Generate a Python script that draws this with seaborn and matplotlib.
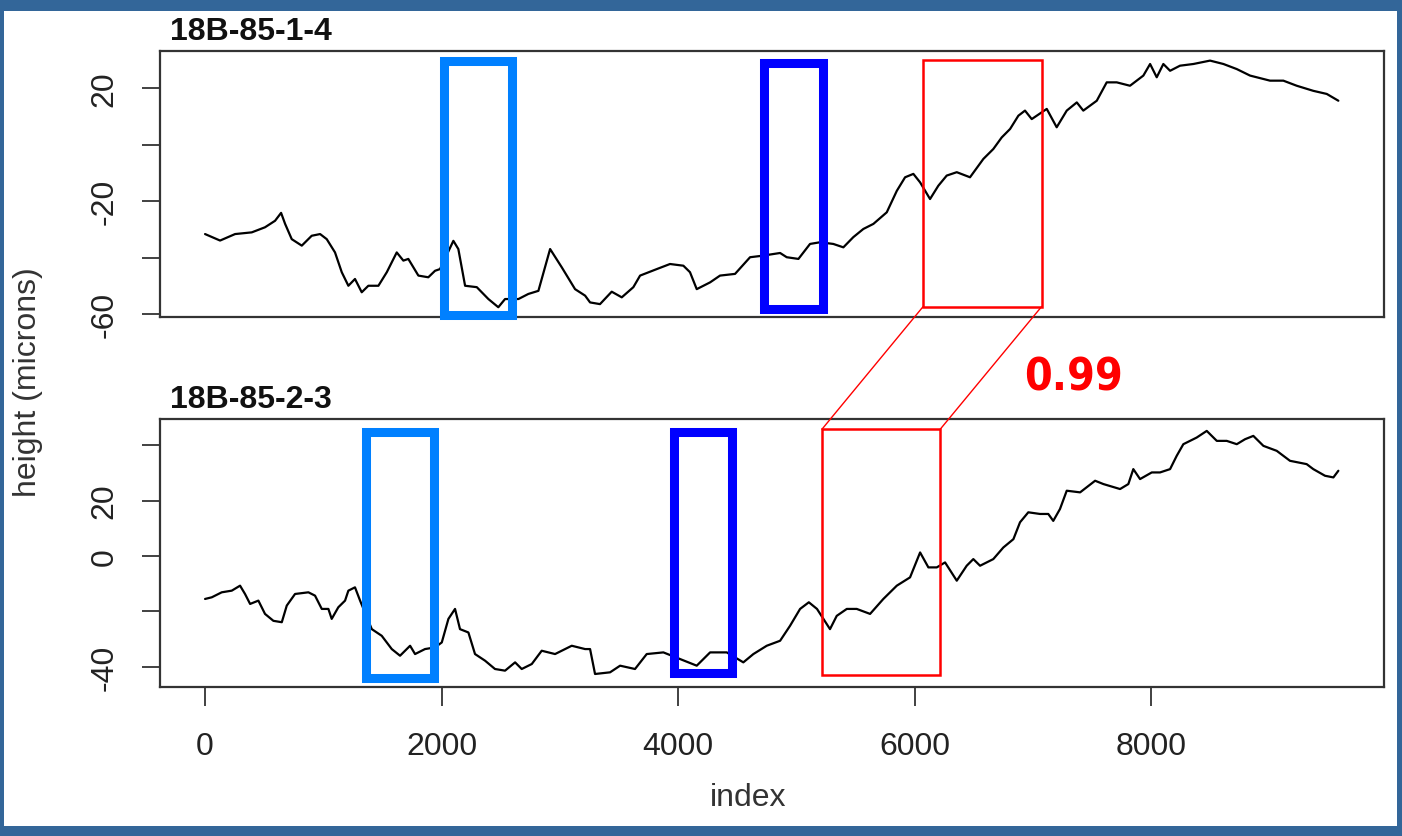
import numpy as np
import pandas as pd
import matplotlib
matplotlib.use("Agg")
import matplotlib.pyplot as plt
from matplotlib.patches import Rectangle, ConnectionPatch
from matplotlib import font_manager
import seaborn as sns

# ---------------- data ----------------
top_title = "18B-85-1-4"
bot_title = "18B-85-2-3"

top_x = [0, 127, 254, 395, 507, 592, 643, 677, 733, 818, 902, 973, 1029, 1099, 1156, 1212,
         1268, 1325, 1381, 1466, 1537, 1621, 1677, 1719, 1804, 1888, 1945, 1987, 2100, 2142,
         2199, 2298, 2396, 2480, 2537, 2650, 2734, 2819, 2918, 3017, 3129, 3214, 3256, 3340,
         3439, 3524, 3622, 3679, 3820, 3932, 4045, 4101, 4158, 4271, 4355, 4482, 4609, 4708,
         4863, 4919, 5018, 5116, 5201, 5313, 5398, 5482, 5567, 5652, 5765, 5850, 5920, 5990,
         6047, 6131, 6201, 6272, 6357, 6469, 6582, 6666, 6737, 6808, 6878, 6934, 6991, 7118,
         7202, 7287, 7372, 7427, 7541, 7625, 7710, 7822, 7935, 7992, 8048, 8104, 8161, 8245,
         8358, 8499, 8612, 8725, 8837, 9006, 9119, 9232, 9372, 9486, 9584]
top_y = [-31.7, -34.0, -31.7, -31.1, -29.3, -27.0, -24.2, -28.1, -33.5, -35.8, -32.3, -31.7,
         -33.5, -38.2, -45.2, -50.0, -47.6, -52.3, -50.0, -50.0, -45.2, -38.2, -41.1, -40.5,
         -46.4, -47.0, -44.7, -44.1, -34.1, -37.0, -50.0, -50.5, -54.7, -57.6, -54.7, -54.7,
         -52.9, -51.8, -37.0, -43.5, -51.2, -53.5, -55.9, -56.5, -52.1, -54.1, -50.5, -46.4,
         -44.1, -42.3, -42.9, -45.2, -51.2, -48.8, -46.4, -45.8, -39.9, -39.4, -38.4, -39.9,
         -40.5, -35.2, -34.6, -35.2, -36.4, -32.8, -29.9, -28.1, -24.0, -16.4, -11.6, -10.4,
         -13.4, -19.3, -14.6, -11.0, -9.8, -11.6, -5.1, -1.6, 2.5, 5.5, 10.2, 12.0, 9.0, 12.6,
         6.1, 12.0, 14.9, 12.0, 15.5, 22.0, 22.0, 20.8, 24.4, 28.5, 23.8, 28.5, 26.1, 27.9,
         28.5, 29.7, 28.5, 26.7, 24.4, 22.6, 22.6, 20.8, 19.0, 17.9, 15.5]

bot_x = [0, 57, 141, 226, 296, 338, 381, 451, 507, 578, 649, 691, 761, 874, 930, 987, 1043,
         1071, 1127, 1184, 1212, 1268, 1311, 1410, 1494, 1579, 1649, 1734, 1776, 1860, 1945,
         2002, 2058, 2114, 2156, 2227, 2283, 2368, 2452, 2537, 2622, 2678, 2763, 2847, 2960,
         3101, 3214, 3256, 3298, 3425, 3510, 3636, 3735, 3876, 4017, 4158, 4271, 4412, 4552,
         4637, 4750, 4863, 4947, 5032, 5106, 5175, 5285, 5342, 5427, 5511, 5624, 5736, 5850,
         5962, 6047, 6117, 6188, 6258, 6357, 6441, 6497, 6554, 6666, 6751, 6836, 6892, 6962,
         7061, 7131, 7173, 7230, 7287, 7400, 7527, 7597, 7738, 7808, 7850, 7907, 8006, 8076,
         8161, 8217, 8273, 8386, 8471, 8556, 8640, 8725, 8795, 8865, 8950, 9063, 9175, 9316,
         9372, 9471, 9542, 9584]
bot_y = [-15.5, -14.9, -13.1, -12.5, -10.7, -13.7, -17.3, -16.1, -20.9, -23.4, -23.9, -17.9,
         -13.7, -13.1, -14.3, -19.1, -19.1, -22.7, -18.5, -16.1, -12.5, -11.3, -16.1, -26.4,
         -28.8, -33.6, -36.0, -32.4, -35.4, -33.6, -33.0, -31.2, -22.7, -19.1, -26.4, -27.6,
         -35.4, -37.8, -40.8, -41.4, -38.4, -40.8, -39.0, -34.2, -35.4, -32.4, -33.6, -33.6,
         -42.6, -42.0, -39.6, -40.8, -35.4, -34.8, -37.2, -39.6, -34.8, -34.8, -38.4, -35.4,
         -32.4, -30.6, -25.2, -19.1, -16.7, -19.1, -26.4, -21.6, -19.1, -19.1, -20.9, -15.5,
         -10.7, -7.7, 1.3, -4.1, -4.1, -2.3, -8.9, -3.5, -1.1, -3.5, -1.1, 3.1, 6.1, 12.2,
         15.8, 15.2, 15.2, 12.7, 17.0, 23.6, 23.0, 27.2, 26.0, 24.2, 26.0, 31.4, 27.8, 30.2,
         30.2, 31.4, 36.2, 40.4, 42.8, 45.2, 41.6, 41.6, 40.4, 42.2, 43.4, 39.8, 38.0, 34.4,
         33.2, 31.4, 29.0, 28.4, 30.8]

x_ticks = [0, 2000, 4000, 6000, 8000]
x_tick_labels = ["0", "2000", "4000", "6000", "8000"]
top_yticks = [20, 0, -20, -40, -60]
top_yticklabels = ["20", "", "-20", "", "-60"]
bot_yticks = [40, 20, 0, -20, -40]
bot_yticklabels = ["", "20", "0", "", "-40"]

# rectangles: (x0, x1, y_bottom, y_top)
top_lightblue = (2021, 2595, -60.2, 29.7)
top_darkblue = (4731, 5222, -58.4, 28.8)
top_red = (6072, 7074, -57.4, 30.0)
bot_lightblue = (1365, 1938, -43.9, 44.8)
bot_darkblue = (3964, 4459, -42.1, 44.8)
bot_red = (5217, 6217, -43.0, 45.8)
corr_label = "0.99"

# ---------------- style ----------------
sns.set_style("white")
plt.rcParams['font.family'] = ['Liberation Sans', 'DejaVu Sans']

fig = plt.figure(figsize=(14.02, 8.37), dpi=100)
fig.patch.set_facecolor('#336699')
W, H = 1402, 837
fig.patches.append(Rectangle((4 / W, 1 - 827 / H), 1393 / W, 815 / H,
                             transform=fig.transFigure, facecolor='white',
                             edgecolor='none', zorder=-10))

ax1 = fig.add_axes([160 / W, 1 - 318 / H, 1224 / W, 266 / H])
ax2 = fig.add_axes([160 / W, 1 - 688 / H, 1224 / W, 268 / H])

df_top = pd.DataFrame({"index": top_x, "height": top_y})
df_bot = pd.DataFrame({"index": bot_x, "height": bot_y})
sns.lineplot(data=df_top, x="index", y="height", ax=ax1, color='black', lw=1.6)
sns.lineplot(data=df_bot, x="index", y="height", ax=ax2, color='black', lw=1.6)

FS = 23
for ax in (ax1, ax2):
    ax.set_facecolor('white')
    ax.set_xlim(-381, 9970)
    for s in ax.spines.values():
        s.set_color('#333333')
        s.set_linewidth(1.6)
    ax.set_xlabel("")
    ax.set_ylabel("")

ax1.set_ylim(-61.06, 33.1)
ax2.set_ylim(-47.3, 49.5)

ax1.set_yticks(top_yticks)
ax1.set_yticklabels(top_yticklabels, rotation=90, va='center')
ax2.set_yticks(bot_yticks)
ax2.set_yticklabels(bot_yticklabels, rotation=90, va='center')
ax1.set_xticks([])
ax2.set_xticks(x_ticks)
ax2.set_xticklabels(x_tick_labels)

for ax in (ax1, ax2):
    ax.tick_params(axis='y', direction='out', length=13, width=1.3, color='#333333',
                   left=True, labelsize=FS, labelcolor='#222222', pad=16)
ax2.tick_params(axis='x', direction='out', length=14, width=1.3, color='#333333',
                bottom=True, labelsize=FS, labelcolor='#222222', pad=18)

ax1.text(10 / 1224, 1.0 + 5 / 266, top_title, transform=ax1.transAxes, ha='left',
         va='bottom', fontsize=23, fontweight='bold', color='#111111')
ax2.text(10 / 1224, 1.0 + 5 / 268, bot_title, transform=ax2.transAxes, ha='left',
         va='bottom', fontsize=23, fontweight='bold', color='#111111')

fig.text(28 / W, 1 - 382 / H, "height (microns)", rotation=90, ha='center', va='center',
         fontsize=FS, color='#333333')
fig.text(748 / W, 1 - 798 / H, "index", ha='center', va='center', fontsize=FS,
         color='#333333')


def add_rect(ax, spec, color, lw):
    x0, x1, y0, y1 = spec
    ax.add_patch(Rectangle((x0, y0), x1 - x0, y1 - y0, fill=False, edgecolor=color,
                           linewidth=lw, clip_on=False, zorder=3))


add_rect(ax1, top_lightblue, '#0080FF', 6.5)
add_rect(ax1, top_darkblue, '#0000FF', 6.5)
add_rect(ax1, top_red, '#FF0000', 1.8)
add_rect(ax2, bot_lightblue, '#0080FF', 6.5)
add_rect(ax2, bot_darkblue, '#0000FF', 6.5)
add_rect(ax2, bot_red, '#FF0000', 1.8)

for xa, xb in ((top_red[0], bot_red[0]), (top_red[1], bot_red[1])):
    con = ConnectionPatch(xyA=(xa, top_red[2]), coordsA=ax1.transData,
                          xyB=(xb, bot_red[3]), coordsB=ax2.transData,
                          color='#FF0000', lw=1.0)
    fig.add_artist(con)

names = {f.name for f in font_manager.fontManager.ttflist}
if 'Liberation Sans Narrow' in names:
    fam = ['Liberation Sans Narrow', 'DejaVu Sans']
    stretch = 'normal'
else:
    fam = ['DejaVu Sans']
    stretch = 'condensed'
fig.text(1073 / W, 1 - 378 / H, corr_label, ha='center', va='center', fontsize=32,
         fontweight='bold', color='#FF0000', family=fam, fontstretch=stretch)

fig.savefig("out.png", dpi=100, facecolor=fig.get_facecolor())
